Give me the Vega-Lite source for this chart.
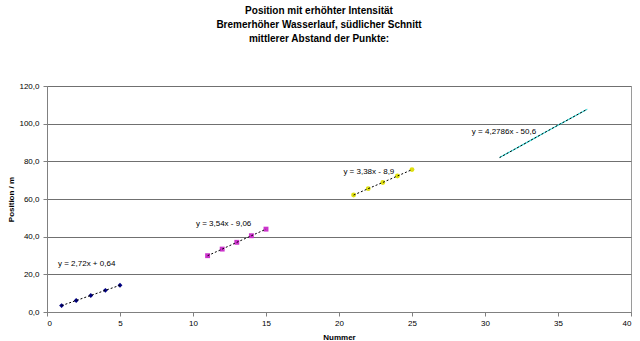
{
  "$schema": "https://vega.github.io/schema/vega-lite/v6.json",
  "autosize": "none",
  "width": 584,
  "height": 226,
  "padding": {"left": 47, "top": 86, "right": 9, "bottom": 29},
  "background": "white",
  "config": {
    "font": "Liberation Sans",
    "view": {"stroke": "#9a9a9a", "strokeWidth": 1}
  },
  "title": {
    "text": ["Position mit erhöhter Intensität", "Bremerhöher Wasserlauf, südlicher Schnitt", "mittlerer Abstand der Punkte:"],
    "font": "Liberation Sans",
    "fontSize": 10,
    "fontWeight": "bold",
    "lineHeight": 14,
    "color": "#000000",
    "anchor": "middle",
    "dx": -20,
    "offset": 38
  },
  "datasets": {
    "pts": [
      {"s": "A", "x": 1, "y": 3.4},
      {"s": "A", "x": 2, "y": 6.1},
      {"s": "A", "x": 3, "y": 8.8},
      {"s": "A", "x": 4, "y": 11.5},
      {"s": "A", "x": 5, "y": 14.2},
      {"s": "B", "x": 11, "y": 29.9},
      {"s": "B", "x": 12, "y": 33.4},
      {"s": "B", "x": 13, "y": 37.0},
      {"s": "B", "x": 14, "y": 40.5},
      {"s": "B", "x": 15, "y": 44.0},
      {"s": "C", "x": 21, "y": 62.1},
      {"s": "C", "x": 22, "y": 65.5},
      {"s": "C", "x": 23, "y": 68.8},
      {"s": "C", "x": 24, "y": 72.2},
      {"s": "C", "x": 25, "y": 75.6},
      {"s": "D", "x": 31, "y": 82.0},
      {"s": "D", "x": 32, "y": 86.3},
      {"s": "D", "x": 33, "y": 90.6},
      {"s": "D", "x": 34, "y": 94.9},
      {"s": "D", "x": 35, "y": 99.2},
      {"s": "D", "x": 36, "y": 103.4},
      {"s": "D", "x": 37, "y": 107.7}
    ],
    "eqs": [
      {"x": 0.75, "y": 25.5, "t": "y = 2,72x + 0,64"},
      {"x": 10.2, "y": 46.7, "t": "y = 3,54x - 9,06"},
      {"x": 20.3, "y": 74.3, "t": "y = 3,38x - 8,9"},
      {"x": 29.1, "y": 95.6, "t": "y = 4,2786x - 50,6"}
    ]
  },
  "encoding": {
    "x": {
      "field": "x", "type": "quantitative",
      "scale": {"domain": [0, 40], "nice": false},
      "axis": {
        "title": "Nummer", "titleFontSize": 8, "titleFontWeight": "bold", "titlePadding": 6,
        "titleColor": "#000000", "values": [0, 5, 10, 15, 20, 25, 30, 35, 40],
        "grid": false, "labelFontSize": 8, "labelColor": "#000000", "labelOverlap": false,
        "domainColor": "#808080", "tickColor": "#808080", "tickSize": 4, "labelPadding": 3
      }
    },
    "y": {
      "field": "y", "type": "quantitative",
      "scale": {"domain": [0, 120], "nice": false},
      "axis": {
        "title": "Position / m", "titleFontSize": 8, "titleFontWeight": "bold", "titlePadding": 3,
        "titleColor": "#000000", "values": [0, 20, 40, 60, 80, 100, 120],
        "labelExpr": "replace(format(datum.value, '.1f'), '.', ',')",
        "grid": true, "gridColor": "#707070", "gridWidth": 1, "labelOverlap": false,
        "labelFontSize": 8, "labelColor": "#000000",
        "domainColor": "#808080", "tickColor": "#808080", "tickSize": 4, "labelPadding": 4
      }
    }
  },
  "layer": [
    {
      "data": {"name": "pts"},
      "transform": [{"filter": "datum.s === 'D'"}],
      "mark": {"type": "line", "color": "#40dede", "strokeWidth": 1.2}
    },
    {
      "data": {"name": "pts"},
      "transform": [{"filter": "datum.s !== 'D'"}],
      "mark": {"type": "point", "filled": true, "opacity": 1, "size": 24},
      "encoding": {
        "color": {"field": "s", "type": "nominal", "legend": null,
          "scale": {"domain": ["A", "B", "C"], "range": ["#000080", "#cc33cc", "#e0e010"]}},
        "shape": {"field": "s", "type": "nominal", "legend": null,
          "scale": {"domain": ["A", "B", "C"], "range": ["diamond", "square", "circle"]}}
      }
    },
    {
      "data": {"name": "pts"},
      "mark": {"type": "line", "color": "#000000", "strokeWidth": 1, "strokeDash": [2, 2]},
      "encoding": {
        "detail": {"field": "s", "type": "nominal"}
      }
    },
    {
      "data": {"name": "eqs"},
      "mark": {"type": "text", "align": "left", "baseline": "middle", "fontSize": 8, "color": "#000000"},
      "encoding": {
        "text": {"field": "t"}
      }
    }
  ]
}
